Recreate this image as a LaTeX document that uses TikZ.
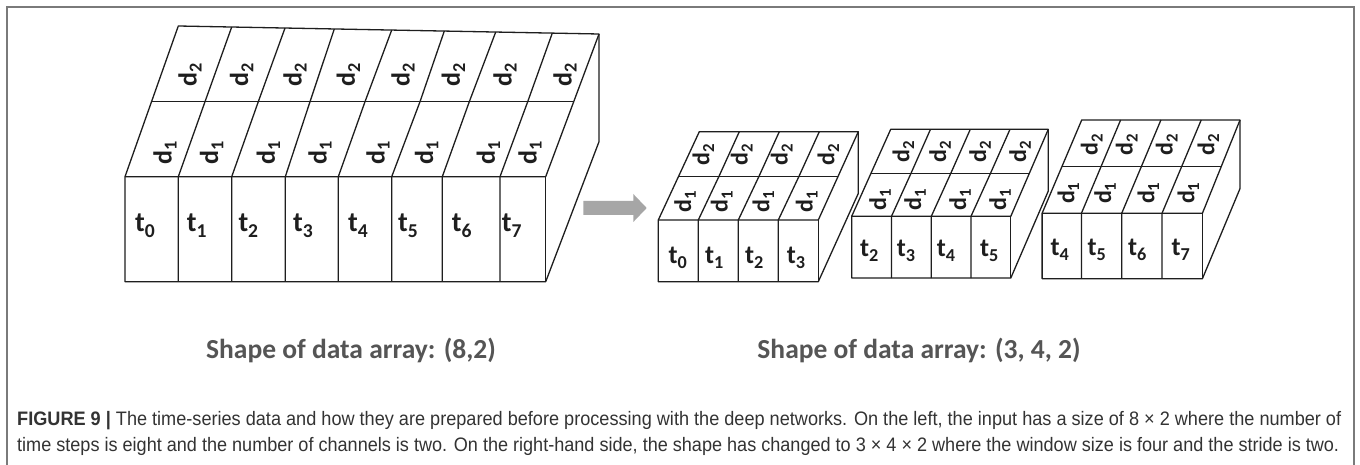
\documentclass[tikz,border=0pt]{standalone}
\usepackage{fontspec}
\setmainfont{Carlito}
\newfontfamily\capfont{Liberation Sans}
\usepackage{graphicx}
\definecolor{linec}{HTML}{1E1E1E}
\definecolor{framec}{HTML}{7A7A7A}
\definecolor{arrowc}{HTML}{A6A6A6}
\definecolor{shapec}{HTML}{555555}
\definecolor{capc}{HTML}{333333}
\newcommand{\sbs}[1]{\raisebox{-0.2em}{\scalebox{0.7}{#1}}}
\tikzset{
  blk/.style={draw=linec, line width=1.3pt, line join=round},
  blkfill/.style={fill=white, draw=linec, line width=1.3pt, line join=round},
  tbig/.style={anchor=base west, inner sep=0pt, text=linec, font=\bfseries\fontsize{28}{28}\selectfont},
  dbig/.style={rotate=90, inner sep=0pt, text=linec, font=\bfseries\fontsize{26}{26}\selectfont},
  tsml/.style={anchor=base west, inner sep=0pt, text=linec, font=\bfseries\fontsize{26}{26}\selectfont},
  dsml/.style={rotate=90, inner sep=0pt, text=linec, font=\bfseries\fontsize{24}{24}\selectfont},
  shapecap/.style={anchor=base, inner sep=0pt, text=shapec, font=\bfseries\fontsize{27.5}{28}\selectfont},
  capline/.style={anchor=base west, inner sep=0pt, text=capc, font=\capfont\fontsize{19.5}{21}\selectfont},
  framel/.style={draw=framec, line width=1.2pt}
}
\begin{document}
\begin{tikzpicture}[x=1pt,y=-1pt]
\useasboundingbox (0,0) rectangle (1360,465);
\fill[white] (0,0) rectangle (1360,465);
% frame
\draw[framel] (7,466) -- (7,7) -- (1354,7) -- (1354,466);

% ===== big block =====
\path[blkfill] (125,281.7) -- (125,176.7) -- (178.3,26) -- (599,34) -- (599,141.7) -- (545.7,281.7) -- cycle;
\draw[blk] (125,176.7) -- (545.7,176.7) -- (599,34);
\draw[blk] (545.7,176.7) -- (545.7,281.7);
\draw[blk] (151.7,101.7) -- (573.3,101.7);
\foreach \f/\m/\b in {178.3/205/231.7, 231.7/258.3/285, 285.3/310/334.3, 338.3/365/391.7, 391.7/420/444.3, 442.3/469.3/495.7, 500/527.7/552.3}{
  \draw[blk] (\f,281.7) -- (\f,176.7) -- (\m,101.7) -- (\b,{26+(\b-178.3)*0.019016});
}
\foreach \x/\n in {135/0, 186.7/1, 238.3/2, 293/3, 348/4, 398/5, 451.7/6, 501.7/7}{
  \node[tbig] (bt\n) at (\x,231.5) {t\sbs{\n}};
}
\foreach \x [count=\i] in {190, 241.7, 295, 348.3, 403, 453.3, 505, 565}{
  \node[dbig] (bdb\i) at (\x,75) {d\sbs{2}};
}
\foreach \x [count=\i] in {165, 211.7, 268.3, 320, 378, 426.7, 488.3, 530}{
  \node[dbig] (bda\i) at (\x,153.3) {d\sbs{1}};
}

% ===== arrow =====
\fill[arrowc] (583.4,201) -- (633.3,201) -- (633.3,194) -- (646.7,208) -- (633.3,222) -- (633.3,215) -- (583.4,215) -- cycle;

% ===== small block 1 =====
\path[blkfill] (658.3,281.7) -- (658.3,220) -- (699.3,131.7) -- (858.3,131.7) -- (858.3,193.4) -- (818.3,281.7) -- cycle;
\draw[blk] (658.3,220) -- (818.3,220) -- (858.3,131.7);
\draw[blk] (818.3,220) -- (818.3,281.7);
\draw[blk] (678.6,176.7) -- (838.3,176.7);
\foreach \f in {698.3, 738.3, 778.3}{
  \draw[blk] (\f,281.7) -- (\f,220) -- (\f+20.5,176.7) -- (\f+41,131.7);
}
\foreach \x/\n in {668.3/0, 705/1, 745/2, 786.7/3}{
  \node[tsml] (at\n) at (\x,263.5) {t\sbs{\n}};
}
\foreach \x [count=\i] in {703.3, 741.7, 781.7, 828.3}{
  \node[dsml] (adb\i) at (\x,155) {d\sbs{2}};
}
\foreach \x [count=\i] in {685, 721.7, 763.3, 806.7}{
  \node[dsml] (ada\i) at (\x,201.7) {d\sbs{1}};
}

% ===== small block 2 =====
\path[blkfill] (851.7,278) -- (851.7,216.3) -- (890.7,129.3) -- (1048.3,129.3) -- (1048.3,191) -- (1010.8,278) -- cycle;
\draw[blk] (851.7,216.3) -- (1010.8,216.3) -- (1048.3,129.3);
\draw[blk] (1010.8,216.3) -- (1010.8,278);
\draw[blk] (871.2,173.3) -- (1029.6,173.3);
\foreach \f in {891.5, 931.3, 971}{
  \draw[blk] (\f,278) -- (\f,216.3) -- (\f+19.5,173.3) -- (\f+39,129.3);
}
\foreach \x/\n in {860/2, 896.7/3, 936.7/4, 980/5}{
  \node[tsml] (ct\n) at (\x,256.7) {t\sbs{\n}};
}
\foreach \x [count=\i] in {903.3, 940, 980, 1020}{
  \node[dsml] (cdb\i) at (\x,151.7) {d\sbs{2}};
}
\foreach \x [count=\i] in {880, 915, 960, 1000}{
  \node[dsml] (cda\i) at (\x,200) {d\sbs{1}};
}

% ===== small block 3 =====
\path[blkfill] (1042.1,278.7) -- (1042.1,213.3) -- (1081.7,120) -- (1240,120) -- (1240,188.6) -- (1202.4,278.7) -- cycle;
\draw[blk] (1042.1,213.3) -- (1202.4,213.3) -- (1240,120);
\draw[blk] (1202.4,213.3) -- (1202.4,278.7);
\draw[blk] (1061.9,166.7) -- (1221.2,166.7);
\foreach \f in {1081.4, 1121.7, 1162}{
  \draw[blk] (\f,278.7) -- (\f,213.3) -- (\f+19.6,166.7) -- (\f+39.2,120);
}
\foreach \x/\n in {1050.5/4, 1087.4/5, 1127.8/6, 1171.5/7}{
  \node[tsml] (dt\n) at (\x,255.7) {t\sbs{\n}};
}
\foreach \x [count=\i] in {1091.7, 1126.7, 1166.7, 1208.3}{
  \node[dsml] (ddb\i) at (\x,145) {d\sbs{2}};
}
\foreach \x [count=\i] in {1068.3, 1105, 1148.3, 1188.3}{
  \node[dsml] (dda\i) at (\x,193.3) {d\sbs{1}};
}

% ===== shape captions =====
\node[shapecap] (capL) at (351,358) {Shape of data array: (8,2)};
\node[shapecap] (capR) at (919,358) {Shape of data array: (3, 4, 2)};

% ===== figure caption =====
\node[capline] (cap1) at (17,425) {\resizebox{1324pt}{\height}{\textbf{FIGURE 9} \textbf{|} The time-series data and how they are prepared before processing with the deep networks. On the left, the input has a size of 8 × 2 where the number of}};
\node[capline] (cap2) at (17,451) {\resizebox{1322pt}{\height}{time steps is eight and the number of channels is two. On the right-hand side, the shape has changed to 3 × 4 × 2 where the window size is four and the stride is two.}};
\end{tikzpicture}
\end{document}
